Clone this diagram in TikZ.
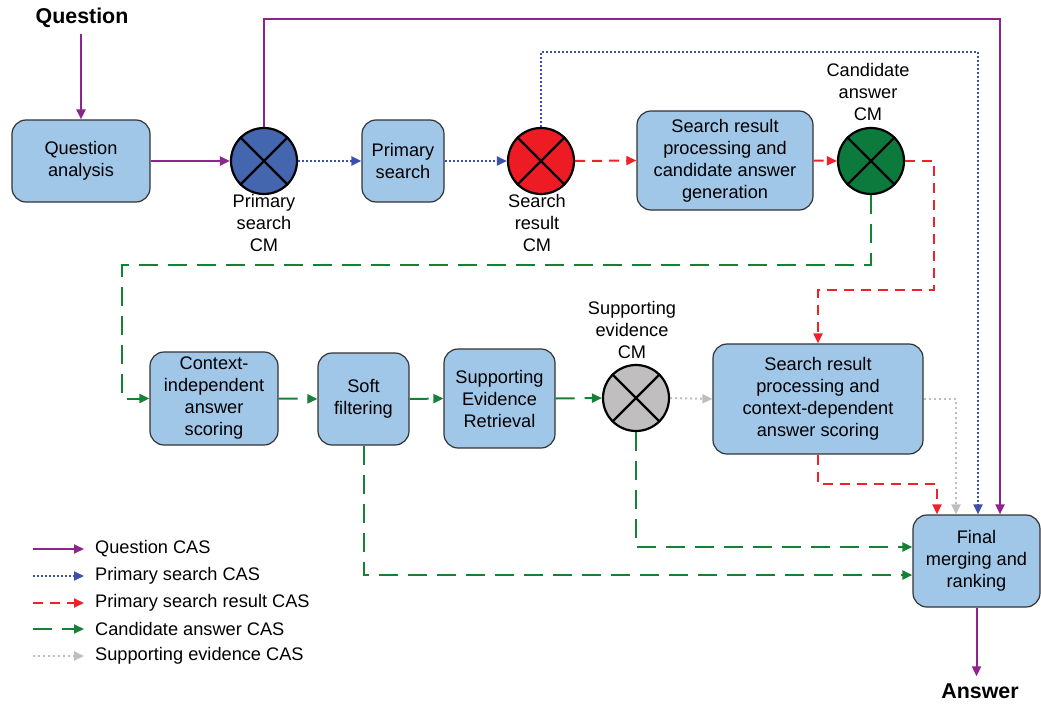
\documentclass[tikz,border=0pt]{standalone}
\usepackage{fontspec}
\setmainfont{Liberation Sans}
\usetikzlibrary{arrows.meta}
\definecolor{boxblue}{RGB}{160,198,232}
\definecolor{qpurple}{RGB}{142,36,142}
\definecolor{sblue}{RGB}{58,80,170}
\definecolor{rred}{RGB}{238,34,40}
\definecolor{agreen}{RGB}{22,128,52}
\definecolor{egray}{RGB}{190,190,190}
\definecolor{cmblue}{RGB}{68,102,175}
\definecolor{cmred}{RGB}{237,28,36}
\definecolor{cmgreen}{RGB}{12,122,60}
\definecolor{cmgray}{RGB}{192,190,190}
\newcommand{\bodyfont}{\fontsize{18.2}{22}\selectfont}
\newcommand{\titlefont}{\fontsize{21.4}{25}\selectfont\bfseries}
\tikzset{
  x=1pt, y=-1pt,
  box/.style={draw=black!80, line width=1.2pt, fill=boxblue, rounded corners=14pt,
    align=center, font=\bodyfont, inner sep=0pt},
  mergenode/.style={circle, draw=black, line width=2.2pt, minimum size=66pt, inner sep=0pt},
  xcross/.style={draw=black, line width=2.2pt},
  cmlabel/.style={align=center, font=\bodyfont, inner sep=0pt},
  titletext/.style={font=\titlefont, inner sep=0pt},
  arrowtip/.style={-{Triangle[length=10pt,width=9pt]}},
  qline/.style={arrowtip, draw=qpurple, line width=2pt},
  sline/.style={arrowtip, draw=sblue, line width=2pt, dash pattern=on 2pt off 2pt},
  rline/.style={arrowtip, draw=rred, line width=2pt, dash pattern=on 10pt off 7pt},
  gline/.style={arrowtip, draw=agreen, line width=2pt, dash pattern=on 19pt off 10pt},
  eline/.style={arrowtip, draw=egray, line width=2pt, dash pattern=on 2pt off 3pt},
  legtext/.style={anchor=west, font=\bodyfont, inner sep=0pt},
}
\begin{document}
\begin{tikzpicture}
\useasboundingbox (0,0) rectangle (1041,704);

% processing stages
\node[box, minimum width=138pt, minimum height=82pt] (qa) at (81,161) {Question\\analysis};
\node[box, minimum width=82pt, minimum height=82pt] (ps) at (403,161) {Primary\\search};
\node[box, minimum width=176pt, minimum height=99pt] (cg) at (725,160.5) {Search result\\processing and\\candidate answer\\generation};
\node[box, minimum width=128pt, minimum height=93pt] (ci) at (214,398.5) {Context-\\independent\\answer\\scoring};
\node[box, minimum width=91pt, minimum height=92pt] (sf) at (363.5,399) {Soft\\filtering};
\node[box, minimum width=111pt, minimum height=99pt] (ser) at (499.5,398.5) {Supporting\\Evidence\\Retrieval};
\node[box, minimum width=210pt, minimum height=110pt] (cd) at (818,399) {Search result\\processing and\\context-dependent\\answer scoring};
\node[box, minimum width=127pt, minimum height=92pt] (fin) at (976.5,561) {Final\\merging and\\ranking};

% checkpoint merges
\node[mergenode, fill=cmblue] (p1) at (264,161) {};
\node[mergenode, fill=cmred] (p2) at (541,161) {};
\node[mergenode, fill=cmgreen] (p3) at (871,161) {};
\node[mergenode, fill=cmgray] (p4) at (636,398) {};
\foreach \c in {p1,p2,p3,p4}
  \draw[xcross] (\c.45) -- (\c.225) (\c.135) -- (\c.315);

\node[cmlabel] (l1) at (264,223) {Primary\\search\\CM};
\node[cmlabel] (l2) at (537,223) {Search\\result\\CM};
\node[cmlabel] (l3) at (868,92) {Candidate\\answer\\CM};
\node[cmlabel] (l4) at (632,330) {Supporting\\evidence\\CM};

% input and output
\node[titletext] (qin) at (82,18) {Question};
\node[titletext] (aout) at (980,691) {Answer};

% routing corners
\coordinate (qtop) at (1000,19);
\coordinate (stop) at (978,52);
\coordinate (rturn) at (934,290);
\coordinate (gturn) at (122,265);
\coordinate (eturn) at (956,399);
\coordinate (rlow) at (937,484);

% question flow
\draw[qline] ([yshift=-6pt]qin.south -| qa.north) -- (qa.north);
\draw[qline] (qa.east) -- (p1.west);
\draw[qline] (p1.north) |- (qtop) -- (qtop |- fin.north);
\draw[qline] (fin.south) -- ([yshift=7pt]aout.north -| fin.south);

% primary search flow
\draw[sline] (p1.east) -- (ps.west);
\draw[sline] (ps.east) -- (p2.west);
\draw[sline] (p2.north) |- (stop) -- (stop |- fin.north);

% search result flow
\draw[rline] (p2.east) -- (cg.west);
\draw[rline] (cg.east) -- (p3.west);
\draw[rline] (p3.east) -| (rturn) -| (cd.north);
\draw[rline] (cd.south) |- (rlow) -- (rlow |- fin.north);

% candidate answer flow
\draw[gline] (p3.south) |- (gturn) |- (ci.west);
\draw[gline] (ci.east) -- (sf.west);
\draw[gline] (sf.east) -- (ser.west);
\draw[gline] (ser.east) -- (p4.west);
\draw[gline] (p4.south) |- ([yshift=14pt]fin.west);
\draw[gline] (sf.south) |- ([yshift=-14pt]fin.west);

% supporting evidence flow
\draw[eline] (p4.east) -- (cd.west);
\draw[eline] (cd.east) -| (eturn |- fin.north);

% legend
\foreach \i/\s/\t/\y in {1/qline/Question CAS/549, 2/sline/Primary search CAS/576,
    3/rline/Primary search result CAS/603, 4/gline/Candidate answer CAS/629,
    5/eline/Supporting evidence CAS/656} {
  \node[legtext] (leg\i) at (95,\y) {\t};
  \coordinate (legs\i) at (33,\y);
  \draw[\s] (legs\i) -- ([xshift=-11pt]leg\i.west);
}
\end{tikzpicture}
\end{document}
